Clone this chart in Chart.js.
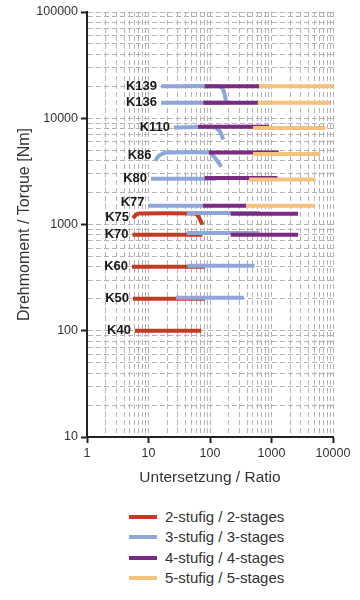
<!DOCTYPE html>
<html>
<head>
<meta charset="utf-8">
<script src="https://cdn.jsdelivr.net/npm/chart.js@4.4.1/dist/chart.umd.min.js"></script>
<style>
  html, body { margin: 0; padding: 0; background: #fff; }
  #wrap { position: relative; width: 360px; height: 500px; }
  #legend { position: absolute; left: 0; top: 507px; width: 360px; font-family: Arial, "Liberation Sans", sans-serif; font-size: 15px; color: #333; }
  .item { position: absolute; left: 129px; height: 20px; }
  .swatch { position: absolute; left: 0; top: 8px; width: 28px; height: 4px; }
  .lbl { position: absolute; left: 36px; top: 0px; white-space: nowrap; line-height: 20px; }
</style>
</head>
<body>
<div id="wrap"><canvas id="c" width="360" height="500"></canvas></div>
<div id="legend"></div>
<script>
// ---- data ----
const seriesNames = ['2-stufig / 2-stages', '3-stufig / 3-stages', '4-stufig / 4-stages', '5-stufig / 5-stages'];
const seriesColors = ['#c63a22', '#8ea6da', '#7a2a80', '#f4c27c'];

const xTicks = [1, 10, 100, 1000, 10000];
const yTicks = [10, 100, 1000, 10000, 100000];

// gear unit labels: [name, ratio at line start, torque]
const gearNames = ['K139', 'K136', 'K110', 'K86', 'K80', 'K77', 'K75', 'K70', 'K60', 'K50', 'K40'];
const gearStartRatio = [16, 16, 26, 13, 11, 10, 5.6, 5.5, 5.4, 5.6, 6];
const gearTorque = [20000, 14000, 8200, 4450, 2700, 1620, 1160, 800, 400, 200, 100];

// segments per stage: list of [ratio, torque] points
const twoStage = [
  [[5.6, 1150], [6.3, 1240], [7, 1270], [55, 1270], [62, 1230], [68, 1130], [75, 1000]],
  [[5.5, 800], [75, 800]],
  [[5.4, 400], [82, 400]],
  [[5.6, 200], [82, 200]],
  [[6, 100], [72, 100]]
];
const threeStage = [
  [[16, 20000], [140, 20000], [160, 19000], [172, 17000], [182, 14500]],
  [[16, 14000], [180, 14000]],
  [[26, 8200], [120, 8200], [142, 7600], [155, 6900], [163, 6300]],
  [[13, 4000], [14.5, 4400], [17, 4650], [20, 4750], [95, 4750], [112, 4450], [130, 4000], [153, 3500]],
  [[11, 2700], [127, 2700]],
  [[10, 1500], [77, 1500]],
  [[42, 1280], [640, 1280]],
  [[42, 830], [640, 830]],
  [[43, 410], [530, 410]],
  [[28, 205], [355, 205]]
];
const fourStage = [
  [[82, 20000], [630, 20000]],
  [[78, 14000], [600, 14000]],
  [[64, 8300], [910, 8300]],
  [[96, 4750], [1320, 4750]],
  [[1320, 4750], [1330, 4500]],
  [[82, 2740], [1250, 2740]],
  [[77, 1500], [390, 1500]],
  [[217, 1260], [2700, 1260]],
  [[217, 800], [2700, 800]]
];
const fiveStage = [
  [[630, 20000], [10000, 20000]],
  [[600, 14000], [9000, 14000]],
  [[500, 8100], [7600, 8100]],
  [[500, 4600], [6200, 4600]],
  [[430, 2650], [5200, 2650]],
  [[390, 1500], [5000, 1500]]
];

// ---- build datasets ----
const stages = [twoStage, threeStage, fourStage, fiveStage];
const datasets = [];
stages.forEach((segs, si) => {
  segs.forEach(seg => {
    datasets.push({
      label: seriesNames[si],
      data: seg.map(p => ({ x: p[0], y: p[1] })),
      borderColor: seriesColors[si],
      backgroundColor: seriesColors[si],
      borderWidth: 4,
      pointRadius: 0,
      tension: 0.3,
      borderCapStyle: 'butt',
      fill: false,
      order: 10 - si
    });
  });
});

function minorTicks(min, max) {
  const out = [];
  for (let d = min; d < max; d *= 10) {
    for (let k = 1; k < 10; k++) out.push(d * k);
  }
  out.push(max);
  return out;
}
const isMajor = v => Math.abs(Math.log10(v) - Math.round(Math.log10(v))) < 1e-9;

const labelPlugin = {
  id: 'gearLabels',
  afterDatasetsDraw(chart) {
    const { ctx, scales } = chart;
    ctx.save();
    ctx.font = 'bold 13px Arial, "Liberation Sans", sans-serif';
    ctx.fillStyle = '#1a1a1a';
    ctx.textAlign = 'right';
    ctx.textBaseline = 'middle';
    gearNames.forEach((n, i) => {
      const x = scales.x.getPixelForValue(gearStartRatio[i]) - 4;
      const y = scales.y.getPixelForValue(gearTorque[i]);
      ctx.fillText(n, x, y);
    });
    ctx.restore();
  }
};

const font = { family: 'Arial, "Liberation Sans", sans-serif', size: 12.5 };

new Chart(document.getElementById('c'), {
  type: 'line',
  data: { datasets },
  options: {
    responsive: false,
    animation: false,
    events: [],
    layout: { padding: { left: 0, right: 27, top: 12, bottom: 0 } },
    plugins: { legend: { display: false }, tooltip: { enabled: false } },
    scales: {
      x: {
        type: 'logarithmic',
        min: 1, max: 10000,
        afterBuildTicks: s => { s.ticks = minorTicks(1, 10000).map(v => ({ value: v })); },
        afterFit: s => { s.height = 63; },
        ticks: {
          autoSkip: false, maxRotation: 0, color: '#333', font, padding: 3,
          callback: (v) => isMajor(v) ? String(v) : ''
        },
        grid: {
          color: ctx => (ctx.tick && ctx.tick.value > 1) ? '#b4b4b4' : 'rgba(0,0,0,0)',
          lineWidth: 1,
          tickLength: 6,
          tickColor: ctx => (ctx.tick && isMajor(ctx.tick.value)) ? '#222' : 'rgba(0,0,0,0)',
          tickWidth: 2
        },
        border: { display: true, color: '#222', width: 2, dash: [5, 3] },
        title: { display: true, text: 'Untersetzung / Ratio', color: '#333', font: { family: font.family, size: 15.5 }, padding: { top: 0, bottom: 13 } }
      },
      y: {
        type: 'logarithmic',
        min: 10, max: 100000,
        afterBuildTicks: s => { s.ticks = minorTicks(10, 100000).map(v => ({ value: v })); },
        afterFit: s => { s.width = 87; },
        ticks: {
          autoSkip: false, color: '#333', font, padding: 3,
          callback: (v) => isMajor(v) ? String(v) : ''
        },
        grid: {
          color: ctx => (ctx.tick && ctx.tick.value > 10) ? '#b4b4b4' : 'rgba(0,0,0,0)',
          lineWidth: 1,
          tickLength: 6,
          tickColor: ctx => (ctx.tick && isMajor(ctx.tick.value)) ? '#222' : 'rgba(0,0,0,0)',
          tickWidth: 2
        },
        border: { display: true, color: '#222', width: 2, dash: [5, 3] },
        title: { display: true, text: 'Drehmoment / Torque [Nm]', color: '#333', font: { family: font.family, size: 16 }, padding: { top: 15, bottom: 0 } }
      }
    }
  },
  plugins: [labelPlugin]
});

// HTML legend
const lg = document.getElementById('legend');
seriesNames.forEach((n, i) => {
  const d = document.createElement('div');
  d.className = 'item';
  d.style.top = (i * 20.4) + 'px';
  d.innerHTML = '<div class="swatch" style="background:' + seriesColors[i] + '"></div><div class="lbl">' + n + '</div>';
  lg.appendChild(d);
});
</script>
</body>
</html>
